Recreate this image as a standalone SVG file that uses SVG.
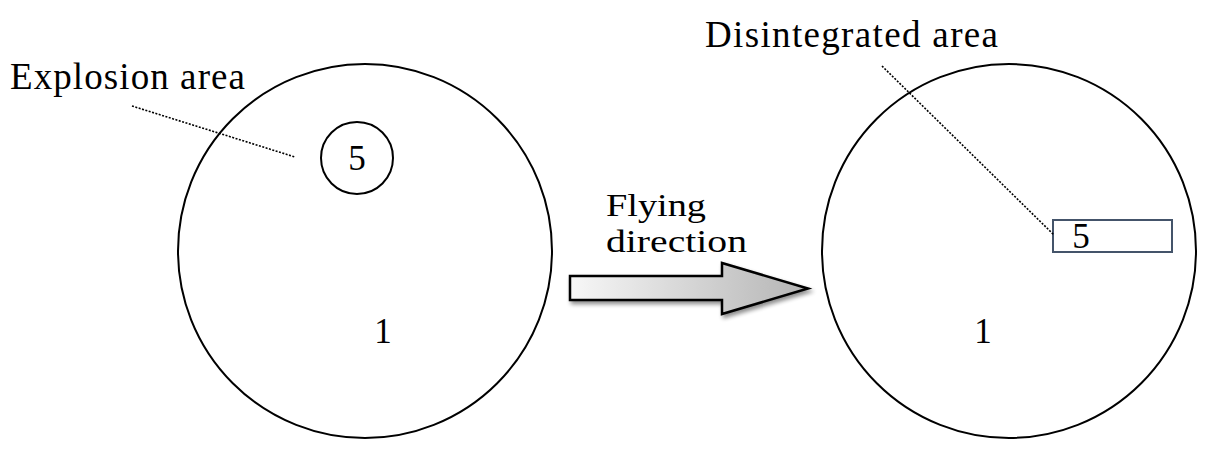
<svg xmlns="http://www.w3.org/2000/svg" width="1215" height="465" viewBox="0 0 1215 465">
  <style>
    .lbl { font-family: "Liberation Serif", "DejaVu Serif", serif; font-size: 37px; fill: #000; }
    .lbl2 { font-family: "Liberation Serif", "DejaVu Serif", serif; font-size: 32px; fill: #000; }
    .num { font-family: "Liberation Serif", "DejaVu Serif", serif; font-size: 35px; fill: #000; }
    .ring { fill: none; stroke: #000; stroke-width: 2; }
    .lead { fill: none; stroke: #000; stroke-width: 1.6; stroke-dasharray: 2 1.5; }
  </style>
  <defs>
    <linearGradient id="arrowGrad" x1="0" y1="0" x2="1" y2="0">
      <stop offset="0" stop-color="#f7f7f7"/>
      <stop offset="1" stop-color="#b4b4b4"/>
    </linearGradient>
    <filter id="shadow" x="-10%" y="-20%" width="130%" height="150%">
      <feGaussianBlur in="SourceAlpha" stdDeviation="2"/>
      <feOffset dx="2" dy="3" result="b"/>
      <feComponentTransfer><feFuncA type="linear" slope="0.45"/></feComponentTransfer>
      <feMerge><feMergeNode/><feMergeNode in="SourceGraphic"/></feMerge>
    </filter>
  </defs>
  <rect width="1215" height="465" fill="#fff"/>

  <g id="left-body">
    <circle class="ring" cx="365" cy="251" r="187"/>
    <text class="num" x="383" y="343" text-anchor="middle">1</text>
  </g>
  <g id="explosion-area">
    <circle class="ring" cx="357" cy="158" r="36"/>
    <text class="num" x="357" y="170" text-anchor="middle">5</text>
  </g>
  <g id="explosion-label">
    <text class="lbl" x="10" y="89" textLength="235">Explosion area</text>
  </g>

  <g id="direction-arrow">
    <polygon points="570,276 722,276 722,263 808,288.5 722,314 722,300 570,300" fill="url(#arrowGrad)" stroke="#000" stroke-width="2.5" stroke-linejoin="miter" filter="url(#shadow)"/>
    <text class="lbl2" x="606" y="216" textLength="100" lengthAdjust="spacingAndGlyphs">Flying</text>
    <text class="lbl2" x="606" y="252" textLength="141" lengthAdjust="spacingAndGlyphs">direction</text>
  </g>

  <g id="right-body">
    <circle class="ring" cx="1009" cy="251" r="187"/>
    <text class="num" x="983" y="343" text-anchor="middle">1</text>
  </g>
  <g id="disintegrated-area">
    <rect x="1053" y="220" width="119" height="32" fill="#fff" stroke="#44546a" stroke-width="2"/>
    <text class="num" x="1081" y="248" text-anchor="middle">5</text>
  </g>
  <g id="disintegrated-label">
    <text class="lbl" x="705" y="47" textLength="293">Disintegrated area</text>
  </g>

  <g id="connectors">
    <line class="lead" x1="132" y1="106" x2="295" y2="157"/>
    <line class="lead" x1="882" y1="66" x2="1054" y2="235"/>
  </g>
</svg>
